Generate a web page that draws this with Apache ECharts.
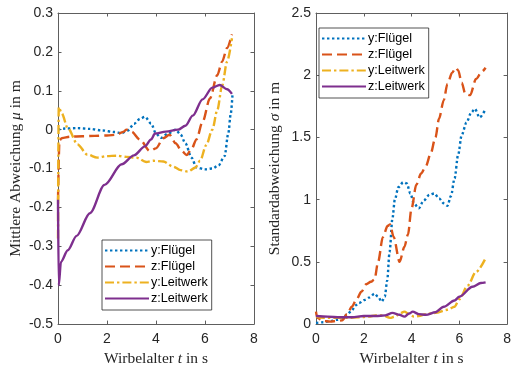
<!DOCTYPE html>
<html>
<head>
<meta charset="utf-8">
<script src="https://cdn.jsdelivr.net/npm/echarts@6/dist/echarts.min.js"></script>
<style>
  html, body { margin: 0; padding: 0; background: #fff; }
  #chart { width: 514px; height: 372px; }
</style>
</head>
<body>
<div id="chart"></div>
<script>
// names of the four curves
var seriesNames = ['y:Flügel', 'z:Flügel', 'y:Leitwerk', 'z:Leitwerk'];
var colors = ['#0072BD', '#D95319', '#EDB120', '#7E2F8E'];

// left panel: mean deviation mu (m) over vortex age t (s)
var tMuYF = [0, 0.3, 0.8, 1.3, 1.8, 2.3, 2.6, 2.85, 3.1, 3.35, 3.55, 3.8, 4.0, 4.2, 4.5, 4.8, 5.0, 5.2, 5.45, 5.65, 6.0, 6.3, 6.55, 6.8, 6.95, 7.05, 7.12];
var muYF  = [0, 0.003, 0.004, 0.002, -0.002, -0.006, -0.009, -0.002, 0.015, 0.028, 0.033, 0.016, -0.01, -0.021, -0.01, 0.0, -0.012, -0.035, -0.072, -0.097, -0.102, -0.1, -0.092, -0.068, -0.01, 0.04, 0.088];

var tMuZF = [0, 0.06, 0.15, 0.5, 1.0, 1.5, 2.0, 2.4, 2.65, 2.8, 3.0, 3.35, 3.75, 4.0, 4.3, 4.55, 4.8, 5.05, 5.25, 5.45, 5.65, 5.9, 6.2, 6.5, 6.7, 6.9, 7.1];
var muZF  = [-0.18, -0.028, -0.022, -0.018, -0.017, -0.016, -0.015, -0.013, -0.006, 0.0, -0.005, -0.026, -0.055, -0.048, -0.022, -0.013, -0.035, -0.055, -0.065, -0.05, -0.025, 0.02, 0.08, 0.14, 0.175, 0.21, 0.245];

var tMuYL = [0, 0.03, 0.15, 0.4, 0.8, 1.2, 1.6, 2.0, 2.4, 2.8, 3.2, 3.6, 3.9, 4.3, 4.7, 5.0, 5.3, 5.6, 5.8, 6.05, 6.3, 6.5, 6.7, 6.9, 7.1];
var muYL  = [-0.28, 0.058, 0.042, 0.004, -0.038, -0.064, -0.072, -0.068, -0.067, -0.07, -0.072, -0.083, -0.08, -0.082, -0.095, -0.104, -0.108, -0.098, -0.08, -0.04, 0.0, 0.05, 0.113, 0.175, 0.235];

var tMuZL = [0, 0.03, 0.12, 0.4, 0.76, 1.3, 1.9, 2.6, 3.1, 3.55, 3.8, 3.96, 4.4, 4.9, 5.2, 5.5, 5.9, 6.3, 6.6, 6.9, 7.1];
var muZL  = [-0.18, -0.4, -0.34, -0.31, -0.273, -0.215, -0.142, -0.089, -0.066, -0.043, -0.025, -0.01, -0.005, 0.0, 0.01, 0.036, 0.078, 0.108, 0.115, 0.104, 0.092];

// right panel: standard deviation sigma (m)
var tSdYF = [0, 0.3, 0.6, 0.9, 1.1, 1.3, 1.5, 1.65, 1.8, 2.05, 2.25, 2.45, 2.6, 2.75, 2.88, 2.98, 3.08, 3.2, 3.3, 3.45, 3.65, 3.8, 3.95, 4.1, 4.3, 4.5, 4.75, 4.95, 5.15, 5.35, 5.5, 5.65, 5.8, 5.95, 6.1, 6.3, 6.5, 6.65, 6.85, 7.1];
var sdYF  = [0.01, 0.015, 0.024, 0.035, 0.05, 0.075, 0.11, 0.15, 0.17, 0.195, 0.215, 0.245, 0.22, 0.18, 0.22, 0.35, 0.58, 0.85, 1.0, 1.1, 1.14, 1.13, 1.05, 0.97, 0.93, 0.99, 1.04, 1.05, 1.01, 0.97, 0.95, 1.03, 1.17, 1.36, 1.52, 1.62, 1.7, 1.73, 1.66, 1.73];

var tSdZF = [0, 0.05, 0.3, 0.6, 0.9, 1.1, 1.3, 1.5, 1.7, 1.9, 2.1, 2.3, 2.45, 2.6, 2.8, 3.0, 3.1, 3.25, 3.5, 3.7, 3.85, 4.0, 4.2, 4.4, 4.6, 4.8, 5.0, 5.15, 5.35, 5.5, 5.7, 5.85, 5.95, 6.1, 6.25, 6.45, 6.7, 6.95, 7.1];
var sdZF  = [0.1, 0.05, 0.025, 0.02, 0.025, 0.03, 0.08, 0.14, 0.2, 0.26, 0.32, 0.34, 0.36, 0.5, 0.7, 0.79, 0.8, 0.7, 0.5, 0.62, 0.72, 0.93, 1.12, 1.21, 1.27, 1.37, 1.5, 1.65, 1.8, 1.93, 2.02, 2.06, 2.04, 1.94, 1.85, 1.84, 1.97, 2.03, 2.06];

var tSdYL = [0, 0.3, 0.8, 1.3, 1.8, 2.2, 2.5, 2.8, 3.1, 3.3, 3.5, 3.7, 3.9, 4.1, 4.3, 4.6, 5.0, 5.5, 5.8, 6.0, 6.35, 6.7, 7.1];
var sdYL  = [0.06, 0.05, 0.05, 0.05, 0.055, 0.06, 0.07, 0.07, 0.05, 0.06, 0.085, 0.1, 0.08, 0.06, 0.065, 0.08, 0.09, 0.115, 0.14, 0.2, 0.31, 0.42, 0.53];

var tSdZL = [0, 0.5, 1.0, 1.5, 2.0, 2.5, 2.9, 3.2, 3.5, 3.7, 3.9, 4.05, 4.3, 4.6, 5.0, 5.35, 5.8, 6.0, 6.55, 6.9, 7.1];
var sdZL  = [0.065, 0.06, 0.055, 0.055, 0.065, 0.065, 0.07, 0.09, 0.075, 0.06, 0.085, 0.1, 0.08, 0.075, 0.095, 0.14, 0.19, 0.22, 0.3, 0.33, 0.335];

var xTicks = { min: 0, max: 8, interval: 2 };
var muTicks = { min: -0.5, max: 0.3, interval: 0.1 };
var sdTicks = { min: 0, max: 2.5, interval: 0.5 };

function zip(t, v) {
  return t.map(function (x, i) { return [x, v[i]]; });
}

var axisColor = '#5e5e5e';
var textColor = '#262626';
var lineTypes = [[2.4, 2.6], [10, 5], [9, 3, 2.4, 3], 'solid'];

var serifRich = {
  a: { fontFamily: 'Liberation Serif', fontSize: 15.5, color: textColor },
  b: { fontFamily: 'Liberation Serif', fontSize: 15.5, color: textColor, fontStyle: 'italic' }
};

function xAxisFor(grid, top) {
  return {
    type: 'value', gridIndex: grid, position: top ? 'top' : 'bottom',
    min: xTicks.min, max: xTicks.max, interval: xTicks.interval,
    name: top ? '' : '{a|Wirbelalter }{b|t}{a| in s}',
    nameLocation: 'middle', nameGap: 21,
    nameTextStyle: { rich: serifRich },
    axisLine: { show: true, onZero: false, lineStyle: { color: axisColor, width: 1 } },
    axisTick: { show: true, inside: true, length: 3.5, lineStyle: { color: axisColor } },
    axisLabel: { show: !top, margin: 8, color: textColor, fontSize: 14, fontFamily: 'Liberation Sans' },
    splitLine: { show: false }
  };
}

function yAxisFor(grid, right, ticks, name, gap) {
  return {
    type: 'value', gridIndex: grid, position: right ? 'right' : 'left',
    min: ticks.min, max: ticks.max, interval: ticks.interval,
    name: right ? '' : name,
    nameLocation: 'middle', nameGap: gap, nameRotate: 90,
    nameTextStyle: { rich: serifRich },
    axisLine: { show: true, onZero: false, lineStyle: { color: axisColor, width: 1 } },
    axisTick: { show: true, inside: true, length: 3.5, lineStyle: { color: axisColor } },
    axisLabel: { show: !right, margin: 5, color: textColor, fontSize: 14, fontFamily: 'Liberation Sans' },
    splitLine: { show: false }
  };
}

function lineSeries(i, xIdx, yIdx, data) {
  return {
    name: seriesNames[i], type: 'line', xAxisIndex: xIdx, yAxisIndex: yIdx,
    data: data, showSymbol: false, symbol: 'none',
    smooth: 0.3, smoothMonotone: 'x',
    lineStyle: { color: colors[i], width: 2.4, type: lineTypes[i] },
    itemStyle: { color: colors[i] },
    animation: false
  };
}

function legendAt(left, top) {
  return {
    orient: 'vertical', left: left, top: top,
    data: seriesNames,
    itemWidth: 44, itemHeight: 12, itemGap: 3,
    padding: [4, 4, 5, 2],
    itemStyle: { opacity: 0 },  // hide the default circle, keep the line
    borderColor: '#262626', borderWidth: 0.8, backgroundColor: '#fff',
    textStyle: { fontSize: 12.6, color: '#000', fontFamily: 'Liberation Sans', padding: [0, 0, 0, -3] },
    selectedMode: false
  };
}

var chart = echarts.init(document.getElementById('chart'), null, { renderer: 'canvas' });

chart.setOption({
  backgroundColor: '#ffffff',
  animation: false,
  grid: [
    { left: 58, top: 13, width: 196, height: 316.5 },
    { left: 316, top: 13, width: 196.5, height: 316.5 }
  ],
  xAxis: [xAxisFor(0, false), xAxisFor(0, true), xAxisFor(1, false), xAxisFor(1, true)],
  yAxis: [
    yAxisFor(0, false, muTicks, '{a|Mittlere Abweichung }{b|μ}{a| in m}', 34),
    yAxisFor(0, true, muTicks, '', 0),
    yAxisFor(1, false, sdTicks, '{a|Standardabweichung }{b|σ}{a| in m}', 33),
    yAxisFor(1, true, sdTicks, '', 0)
  ],
  legend: [legendAt(102, 240), legendAt(319, 28)],
  series: [
    lineSeries(0, 0, 0, zip(tMuYF, muYF)),
    lineSeries(1, 0, 0, zip(tMuZF, muZF)),
    lineSeries(2, 0, 0, zip(tMuYL, muYL)),
    lineSeries(3, 0, 0, zip(tMuZL, muZL)),
    lineSeries(0, 2, 2, zip(tSdYF, sdYF)),
    lineSeries(1, 2, 2, zip(tSdZF, sdZF)),
    lineSeries(2, 2, 2, zip(tSdYL, sdYL)),
    lineSeries(3, 2, 2, zip(tSdZL, sdZL))
  ]
});
</script>
</body>
</html>
